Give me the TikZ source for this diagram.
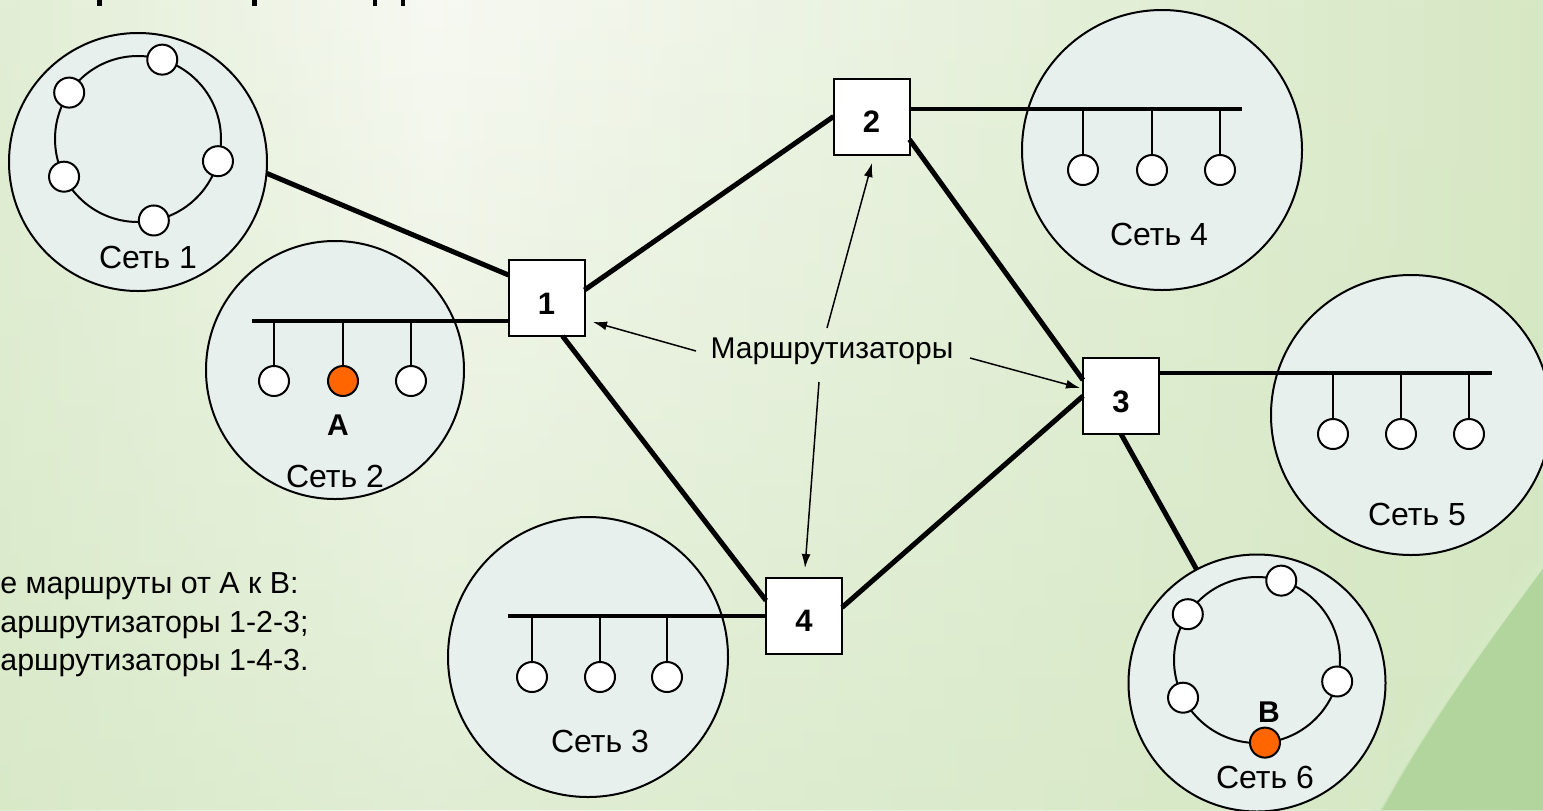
\documentclass[tikz,border=0pt]{standalone}
\usepackage{fontspec}
\setmainfont{Liberation Sans}
\usetikzlibrary{arrows.meta,calc,fadings}

% slide background and fills
\definecolor{bgLeft}{HTML}{E2EED5}
\definecolor{bgLight}{HTML}{F7F9F2}
\definecolor{bgMid}{HTML}{E9F2DF}
\definecolor{bgRight}{HTML}{D7E8C4}
\definecolor{bgLow}{HTML}{D2E6C0}
\definecolor{swoosh}{HTML}{B2D59D}
\definecolor{swooshEdge}{HTML}{D6EAC7}
\definecolor{netfill}{HTML}{E7F0EC}
\definecolor{hostsel}{HTML}{FF6600}

\pgfdeclarehorizontalshading{slidebg}{100bp}{color(0bp)=(bgLeft); color(25bp)=(bgLeft);
  color(39bp)=(bgLight); color(55bp)=(bgMid); color(75bp)=(bgRight); color(100bp)=(bgRight)}
\tikzfading[name=fadeup, top color=transparent!100, bottom color=transparent!0]

\begin{document}
\begin{tikzpicture}[x=0.5pt, y=-0.5pt,
  net/.style={circle, draw=black, line width=1pt, fill=netfill, minimum size=#1, inner sep=0pt, outer sep=0pt},
  host/.style={circle, draw=black, line width=1pt, fill=white, minimum size=15pt, inner sep=0pt, outer sep=0pt},
  hostA/.style={host, fill=hostsel},
  router/.style={rectangle, draw=black, line width=1pt, fill=white, minimum size=38pt, inner sep=0pt, outer sep=0pt,
    font=\fontsize{15.5}{16}\selectfont\bfseries, text height=16pt, text depth=0pt},
  link/.style={line width=2.5pt},
  bus/.style={line width=2.2pt},
  drop/.style={line width=0.9pt},
  ring/.style={line width=1pt},
  callout/.style={line width=0.75pt, -{Latex[length=7pt,width=4.5pt]}},
  netlabel/.style={font=\fontsize{16}{19}\selectfont, anchor=base, inner sep=0pt},
  hostlabel/.style={font=\fontsize{15}{18}\selectfont\bfseries, anchor=base, inner sep=0pt},
  notes/.style={font=\fontsize{15.2}{18}\selectfont, anchor=base west, inner sep=0pt},
]
\useasboundingbox (0,0) rectangle (1543,810);

% background
\shade[shading=slidebg] (0,0) rectangle (1543,810);
\fill[bgLow, path fading=fadeup, fill opacity=0.6] (0,0) rectangle (1543,810);
\fill[swoosh] (1543,568) .. controls (1490,640) and (1430,720) .. (1380,810) -- (1543,810) -- cycle;
\draw[swooshEdge, line width=9pt, opacity=0.35] (1536,562) .. controls (1483,634) and (1422,716) .. (1371,812);
\draw[swooshEdge, line width=4pt, opacity=0.5] (1540,566) .. controls (1487,638) and (1427,719) .. (1376,812);

% descenders of the heading above
\fill (97,0) rectangle (102,6);
\fill (252,0) rectangle (257,6);
\fill (373,0) rectangle (377,6);
\fill (401,0) rectangle (405,6);

% networks
\node[net=129pt] (net1) at (138,162) {};
\node[net=129pt] (net2) at (335,370) {};
\node[net=140pt] (net3) at (588,657) {};
\node[net=140pt] (net4) at (1162,150) {};
\node[net=140pt] (net5) at (1411,415) {};
\node[net=128.5pt] (net6) at (1257,683) {};

% routers
\node[router] (R1) at (546.5,298) {1};
\node[router] (R2) at (871.5,116.5) {2};
\node[router] (R3) at (1121,396) {3};
\node[router] (R4) at (804,615.5) {4};

% links between networks and routers
\draw[link] (net1.-5) -- ($(R1.west)+(0,-23)$);
\draw[link] ($(R1.east)+(0,-8)$) -- (R2.west);
\draw[link] ($(R1.south)+(16,0)$) -- ($(R4.west)+(0,-15)$);
\draw[link] ($(R2.east)+(0,23)$) -- ($(R3.west)+(0,-16)$);
\draw[link] ($(R4.east)+(0,-8)$) -- (R3.west);
\draw[link] (R3.south) -- (net6.118);

% ring network 1
\coordinate (ring1) at (138,139);
\draw[ring] (ring1) circle[radius=83];
\node[host] (n1a) at ($(ring1)+(-73:83)$) {};
\node[host] (n1b) at ($(ring1)+(-146:83)$) {};
\node[host] (n1c) at ($(ring1)+(15.5:83)$) {};
\node[host] (n1d) at ($(ring1)+(153:83)$) {};
\node[host] (n1e) at ($(ring1)+(79:83)$) {};
\node[netlabel] (lbl1) at (148,268) {Сеть 1};

% bus network 2
\coordinate (bus2) at (252,321);
\draw[bus] (bus2) -- (bus2 -| R1.west);
\node[host] (n2a) at (274,381) {};
\node[hostA] (n2b) at (343,381) {};
\node[host] (n2c) at (411,381) {};
\foreach \h in {n2a,n2b,n2c} \draw[drop] (\h.north) -- (\h |- bus2);
\node[hostlabel] (lblA) at (338,435) {A};
\node[netlabel] (lbl2) at (335,487) {Сеть 2};

% bus network 3
\coordinate (bus3) at (508,616);
\draw[bus] (bus3) -- (bus3 -| R4.west);
\node[host] (n3a) at (532,677) {};
\node[host] (n3b) at (600,677) {};
\node[host] (n3c) at (667,677) {};
\foreach \h in {n3a,n3b,n3c} \draw[drop] (\h.north) -- (\h |- bus3);
\node[netlabel] (lbl3) at (600,752) {Сеть 3};

% bus network 4
\coordinate (bus4) at (1242,109);
\draw[bus] (bus4 -| R2.east) -- (bus4);
\node[host] (n4a) at (1083,170) {};
\node[host] (n4b) at (1152,170) {};
\node[host] (n4c) at (1220,170) {};
\foreach \h in {n4a,n4b,n4c} \draw[drop] (\h.north) -- (\h |- bus4);
\node[netlabel] (lbl4) at (1159,245) {Сеть 4};

% bus network 5
\coordinate (bus5) at (1492,373);
\draw[bus] (bus5 -| R3.east) -- (bus5);
\node[host] (n5a) at (1333,434) {};
\node[host] (n5b) at (1401,434) {};
\node[host] (n5c) at (1469,434) {};
\foreach \h in {n5a,n5b,n5c} \draw[drop] (\h.north) -- (\h |- bus5);
\node[netlabel] (lbl5) at (1417,525) {Сеть 5};

% ring network 6
\coordinate (ring6) at (1257,660);
\draw[ring] (ring6) circle[radius=83];
\node[host] (n6a) at ($(ring6)+(-73:83)$) {};
\node[host] (n6b) at ($(ring6)+(-146.5:83)$) {};
\node[host] (n6c) at ($(ring6)+(15:83)$) {};
\node[host] (n6d) at ($(ring6)+(153:83)$) {};
\node[hostA] (n6e) at ($(ring6)+(84.5:83)$) {};
\node[hostlabel] (lblB) at (1269,722) {B};
\node[netlabel] (lbl6) at (1265,788) {Сеть 6};

% callout naming the routers
\node[font=\fontsize{15}{18}\selectfont, anchor=base, inner sep=0pt] (lblR) at (832,358) {Маршрутизаторы};
\draw[callout] ($(lblR.base)+(-136,-7)$) -- ($(R1.east)+(8.5,24)$);
\draw[callout] ($(lblR.base)+(-5,-30)$) -- ($(R2.south)+(0.5,8.5)$);
\draw[callout] ($(lblR.base)+(138,0)$) -- ($(R3.west)+(-3,-8)$);
\draw[callout] ($(lblR.base)+(-13,24)$) -- ($(R4.north)+(1,-9.5)$);

% route notes
\node[notes] (route1) at (0,593) {е маршруты от А к В:};
\node[notes] (route2) at (0,632) {аршрутизаторы 1-2-3;};
\node[notes] (route3) at (0,670) {аршрутизаторы 1-4-3.};
\end{tikzpicture}
\end{document}
